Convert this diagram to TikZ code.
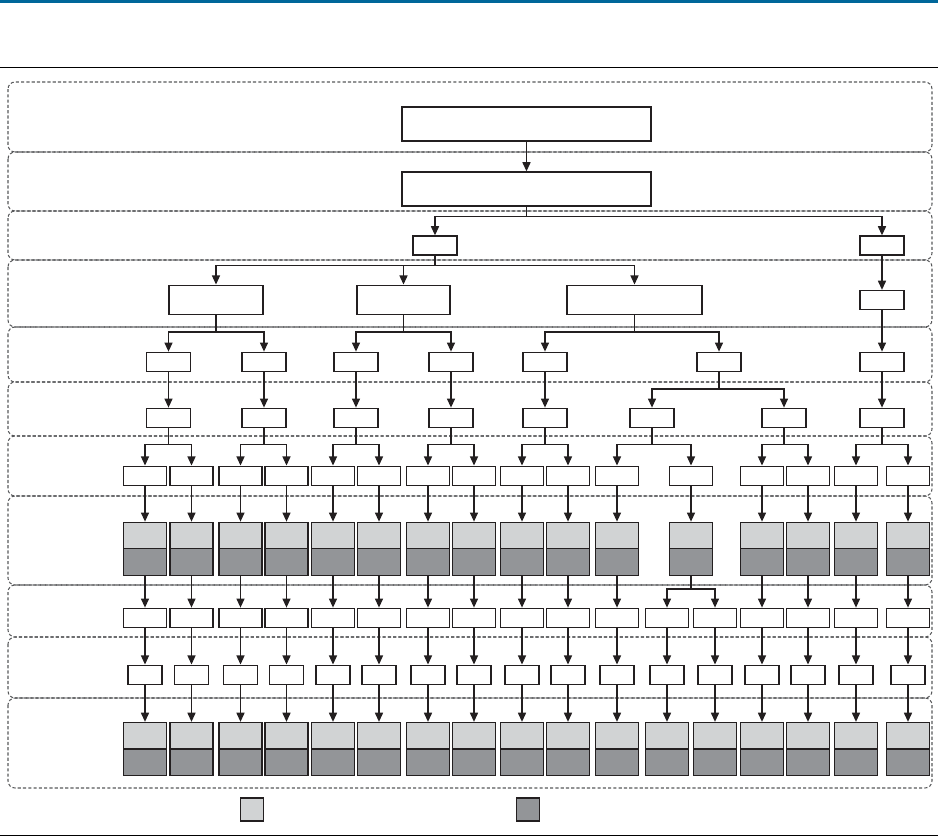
\documentclass[tikz,border=0pt]{standalone}
\usepackage{tikz}
\usetikzlibrary{arrows.meta,positioning,calc}
\definecolor{FigBlue}{HTML}{00679A}
\definecolor{FigInk}{HTML}{231F20}
\definecolor{FigLight}{HTML}{D1D3D4}
\definecolor{FigDark}{HTML}{939598}
\definecolor{FigDash}{HTML}{58595B}

\begin{document}
\begin{tikzpicture}[x=0.02cm,y=-0.02cm,
  band/.style={draw=FigDash,line width=0.6pt,dash pattern=on 1.8pt off 1.2pt,rounded corners=4pt},
  box/.style={draw=FigInk,line width=0.75pt,fill=white,inner sep=0pt,minimum width=0.86cm,minimum height=0.38cm},
  head/.style={box,minimum width=4.98cm,minimum height=0.68cm},
  group/.style={box,minimum height=0.58cm},
  tiny/.style={box,minimum width=0.68cm},
  cell/.style={box,fill=FigLight,minimum height=1.06cm,
    path picture={\fill[FigDark] (path picture bounding box.west) rectangle (path picture bounding box.south east);
      \draw[FigInk,line width=0.75pt] (path picture bounding box.west) -- (path picture bounding box.east);}},
  swatch/.style={box,minimum width=0.45cm,minimum height=0.46cm},
  arr/.style={-{Triangle[width=4.6pt,length=5.2pt]},line width=0.75pt,FigInk},
]
\useasboundingbox (0,0) rectangle (938,837);
% page rules
\fill[FigBlue] (0,0) rectangle (938,2.6);
\draw[line width=0.6pt] (0,67.5) -- (938,67.5);
\draw[line width=0.6pt] (0,835.5) -- (938,835.5);

% layers
\foreach \ya/\yb in {82/152,152/211,211/260,260/327,327/382,382/436,436/496,496/585,585/637,637/698,698/788}
  \draw[band] (8,\ya) rectangle (932,\yb);

% upper part of the tree
\node[head] (src) at (526.5,124) {};
\node[head] (core) at (526.5,189) {};
\node[box,minimum width=0.88cm] (sa) at (435,245.5) {};
\node[box,minimum width=0.88cm] (sb) at (882,245.5) {};
\node[group,minimum width=1.88cm] (ga) at (216,299.7) {};
\node[group,minimum width=1.86cm] (gb) at (403.5,299.7) {};
\node[group,minimum width=2.7cm] (gc) at (634.5,299.7) {};
\node[box,minimum width=0.88cm] (gr) at (882,300) {};
\foreach \x [count=\i] in {168.5,264,356,451,545,719,882}
  \node[box,minimum width=0.88cm] (p\i) at (\x,361.8) {};
\foreach \x [count=\i] in {168.5,264,356,451,545,652,784,882}
  \node[box,minimum width=0.88cm] (q\i) at (\x,417.8) {};

% lower part
\foreach \x [count=\i] in {145,191.5,240.5,286.5,333,379,428,474,522,568,617,691,762,808,856,908}{
  \node[box] (r\i) at (\x,475.7) {};
  \node[cell] (s\i) at (\x,548.8) {};
}
\foreach \x [count=\i] in {145,191.5,240.5,286.5,333,379,428,474,522,568,617,667,715,762,808,856,908}{
  \node[box] (t\i) at (\x,617.8) {};
  \node[tiny] (u\i) at (\x,674.7) {};
  \node[cell] (v\i) at (\x,749) {};
}

% legend
\node[swatch,fill=FigLight] (keylight) at (252,809.5) {};
\node[swatch,fill=FigDark] (keydark) at (528,809.5) {};

% connectors
\draw[arr] (src) -- (core);
\draw[arr] (core.south) -- ++(0,10) -| (sa.north);
\draw[arr] (core.south) -- ++(0,10) -| (sb.north);
\foreach \g in {ga,gb,gc}
  \draw[arr] (sa.south) -- ++(0,10) -| (\g.north);
\draw[arr] (sb) -- (gr);
\foreach \g/\a/\b in {ga/1/2,gb/3/4,gc/5/6}{
  \draw[arr] (\g.south) -- ++(0,17) -| (p\a.north);
  \draw[arr] (\g.south) -- ++(0,17) -| (p\b.north);
}
\draw[arr] (gr) -- (p7);
\foreach \i in {1,...,5}
  \draw[arr] (p\i) -- (q\i);
\draw[arr] (p6.south) -- ++(0,17) -| (q6.north);
\draw[arr] (p6.south) -- ++(0,17) -| (q7.north);
\draw[arr] (p7) -- (q8);
\foreach \i [evaluate=\i as \a using int(2*\i-1), evaluate=\i as \b using int(2*\i)] in {1,...,8}{
  \draw[arr] (q\i.south) -- ++(0,16.7) -| (r\a.north);
  \draw[arr] (q\i.south) -- ++(0,16.7) -| (r\b.north);
}
\foreach \i in {1,...,16}
  \draw[arr] (r\i) -- (s\i);
\foreach \i/\j in {1/1,2/2,3/3,4/4,5/5,6/6,7/7,8/8,9/9,10/10,11/11,13/14,14/15,15/16,16/17}
  \draw[arr] (s\i) -- (t\j);
\draw[arr] (s12.south) -- ++(0,13) -| (t12.north);
\draw[arr] (s12.south) -- ++(0,13) -| (t13.north);
\foreach \i in {1,...,17}{
  \draw[arr] (t\i) -- (u\i);
  \draw[arr] (u\i) -- (v\i);
}
\end{tikzpicture}
\end{document}
